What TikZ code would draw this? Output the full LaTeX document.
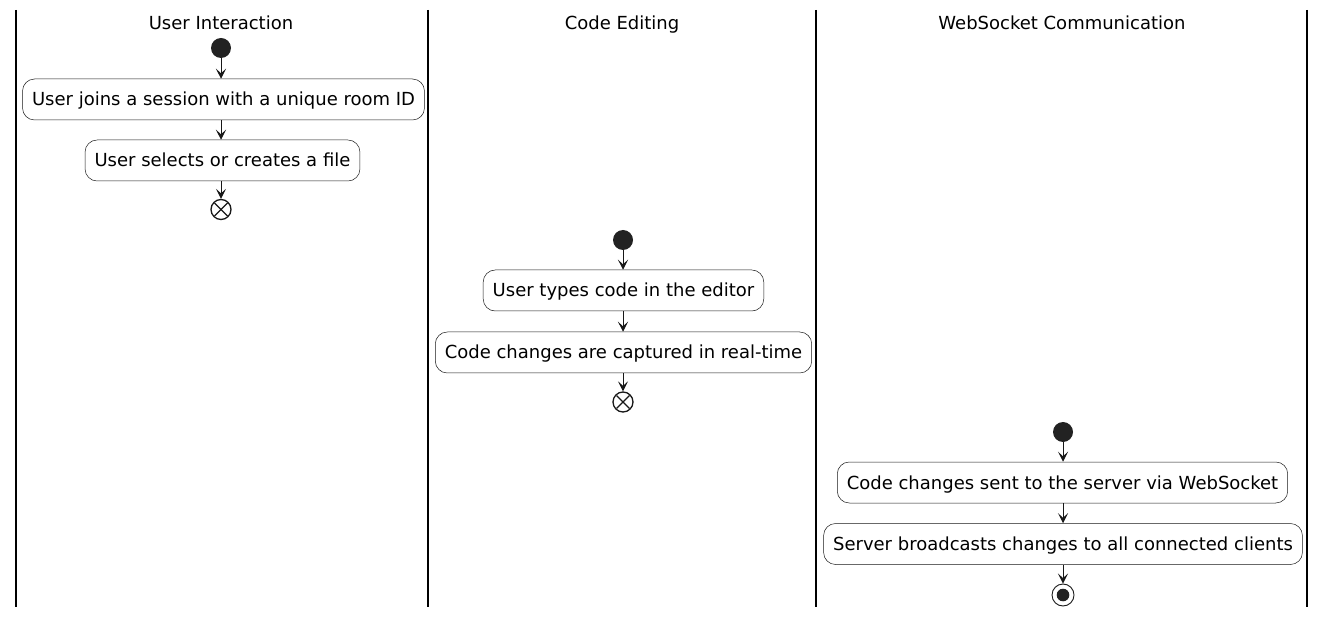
\documentclass[tikz,border=0pt]{standalone}
\usepackage{fontspec}
\setmainfont{DejaVu Sans}
\usetikzlibrary{arrows.meta}
\definecolor{ink}{HTML}{181818}
\definecolor{startc}{HTML}{222222}
\begin{document}
\begin{tikzpicture}[x=1pt,y=1pt,
  lane/.style={line width=1.5pt, draw=black},
  title/.style={font=\fontsize{18}{21}\selectfont, text=black, anchor=base, inner sep=0pt},
  act/.style={draw=ink, line width=0.5pt, rounded corners=12pt, minimum height=41pt, inner xsep=9.5pt, text height=14.5pt, text depth=1.5pt, font=\fontsize{18}{21}\selectfont, text=black, fill=white},
  startnode/.style={circle, fill=startc, draw=none, minimum size=20pt, inner sep=0pt},
  flowend/.style={circle, draw=ink, line width=1.3pt, minimum size=20pt, inner sep=0pt, fill=white,
    path picture={\draw[ink, line width=1.4pt] ([shift={(-6.5pt,-6.5pt)}]path picture bounding box.center) -- ++(13pt,13pt);
                  \draw[ink, line width=1.4pt] ([shift={(-6.5pt,6.5pt)}]path picture bounding box.center) -- ++(13pt,-13pt);}},
  stopnode/.style={circle, draw=ink, line width=0.9pt, minimum size=22pt, inner sep=0pt, fill=white,
    path picture={\fill[startc] (path picture bounding box.center) circle (6.3pt);}},
  flow/.style={draw=ink, line width=1pt, -{Stealth[length=10pt, width=10pt, inset=4.5pt]}}
]
\useasboundingbox (0,0) rectangle (1325,-617);
% swimlane borders
\coordinate (l0t) at (16,-10); \coordinate (l0b) at (16,-607);
\coordinate (l1t) at (428,-10); \coordinate (l1b) at (428,-607);
\coordinate (l2t) at (816,-10); \coordinate (l2b) at (816,-607);
\coordinate (l3t) at (1307,-10); \coordinate (l3b) at (1307,-607);
\draw[lane] (l0t) -- (l0b);
\draw[lane] (l1t) -- (l1b);
\draw[lane] (l2t) -- (l2b);
\draw[lane] (l3t) -- (l3b);
% titles
\node[title] (t1) at (221,-29.5) {User Interaction};
\node[title] (t2) at (622,-29.5) {Code Editing};
\node[title] (t3) at (1062,-29.5) {WebSocket Communication};
% lane 1
\node[startnode] (s1) at (221,-48) {};
\node[act] (a1) at (223.5,-99.5) {User joins a session with a unique room ID};
\node[act] (a2) at (222.5,-160.5) {User selects or creates a file};
\node[flowend] (e1) at (221,-209.5) {};
\draw[flow] (s1) -- (a1.north -| s1);
\draw[flow] (a1.south -| s1) -- (a2.north -| s1);
\draw[flow] (a2.south -| s1) -- (e1);
% lane 2
\node[startnode] (s2) at (623,-240) {};
\node[act] (b1) at (623.5,-290.5) {User types code in the editor};
\node[act] (b2) at (623.5,-352.5) {Code changes are captured in real-time};
\node[flowend] (e2) at (623,-402) {};
\draw[flow] (s2) -- (b1.north -| s2);
\draw[flow] (b1.south -| s2) -- (b2.north -| s2);
\draw[flow] (b2.south -| s2) -- (e2);
% lane 3
\node[startnode] (s3) at (1063,-432) {};
\node[act] (c1) at (1062.5,-482.5) {Code changes sent to the server via WebSocket};
\node[act] (c2) at (1063,-544) {Server broadcasts changes to all connected clients};
\node[stopnode] (e3) at (1063,-595) {};
\draw[flow] (s3) -- (c1.north -| s3);
\draw[flow] (c1.south -| s3) -- (c2.north -| s3);
\draw[flow] (c2.south -| s3) -- (e3);
\end{tikzpicture}
\end{document}
